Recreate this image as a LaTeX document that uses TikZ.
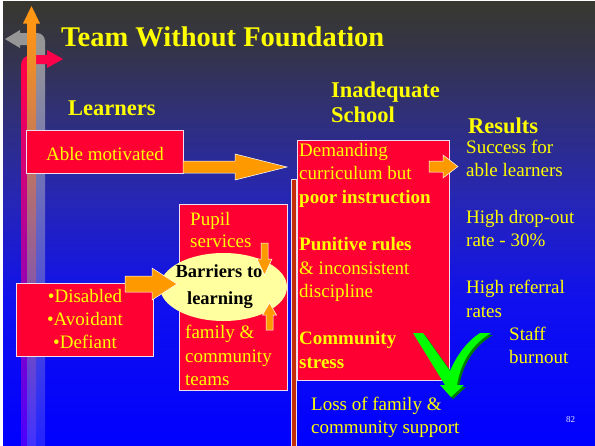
\documentclass[tikz,border=0pt]{standalone}
\usepackage{fontspec}
\setmainfont{Liberation Serif}
\usetikzlibrary{shapes.geometric}

% palette
\definecolor{boxred}{RGB}{255,0,51}
\definecolor{boxedge}{RGB}{236,222,236}
\definecolor{arroworange}{RGB}{255,153,0}
\definecolor{barfill}{RGB}{195,45,10}
\definecolor{bubble}{RGB}{255,255,160}
\definecolor{txtyellow}{RGB}{255,255,0}
\definecolor{chkgreen}{RGB}{0,255,0}
\definecolor{chkshadow}{RGB}{0,125,0}
\definecolor{pagenum}{RGB}{225,225,255}
% background stops
\definecolor{bgTop}{RGB}{56,56,46}
\definecolor{bgA}{RGB}{52,52,74}
\definecolor{bgB}{RGB}{48,48,118}
\definecolor{bgC}{RGB}{38,38,182}
\definecolor{bgD}{RGB}{16,16,238}
\definecolor{bgE}{RGB}{0,0,255}
% rising arrows on the left
\definecolor{grayTop}{RGB}{150,150,150}
\definecolor{grayMid}{RGB}{105,105,205}
\definecolor{grayBot}{RGB}{35,35,255}
\definecolor{redTop}{RGB}{255,0,75}
\definecolor{redMid}{RGB}{175,0,185}
\definecolor{redBot}{RGB}{75,0,255}
\definecolor{orTop}{RGB}{255,150,20}
\definecolor{orMid}{RGB}{205,118,170}
\definecolor{orBot}{RGB}{65,50,255}

\pgfdeclareverticalshading{slidebg}{100bp}{%
  color(0bp)=(bgE); color(25bp)=(bgE); color(41.3bp)=(bgD);
  color(52.5bp)=(bgC); color(62.6bp)=(bgB); color(69.4bp)=(bgA);
  color(75bp)=(bgTop); color(100bp)=(bgTop)}

\begin{document}
\begin{tikzpicture}[x=1pt,y=-1pt,
  redbox/.style={draw=boxedge, fill=boxred, line width=0.7pt, inner sep=0pt, anchor=north west},
  blockarrow/.style={fill=arroworange, draw=white, line width=0.5pt},
  body/.style={text=txtyellow, font=\fontsize{19}{23.5}\selectfont, inner sep=0pt, anchor=base west},
  bodyb/.style={body, font=\fontsize{19}{23.5}\selectfont\bfseries},
  heading/.style={text=txtyellow, font=\fontsize{22.5}{27}\selectfont\bfseries, inner sep=0pt, anchor=base west},
  bubbletxt/.style={anchor=base, inner sep=0pt, font=\fontsize{18.5}{23}\selectfont\bfseries}]
\useasboundingbox (0,0) rectangle (595,445);
\fill[white] (0,0) rectangle (595,445);
\shade[shading=slidebg] (3,1) rectangle (595,445);

% gray arrow turning left
\shade[top color=grayTop, middle color=grayMid, bottom color=grayBot] (36,50) rectangle (45,445);
\fill[grayTop] (45,51) -- (45,41) .. controls (45,36.6) and (41.4,33) .. (37,33)
  -- (20,33) -- (20,30) -- (5,39) -- (20,48) -- (20,45) -- (36,45) -- (36,51) -- cycle;
% red arrow turning right
\shade[top color=redTop, middle color=redMid, bottom color=redBot] (21,74) rectangle (27.5,445);
\fill[redTop] (21,75) -- (21,65) .. controls (21,59.5) and (25.5,55) .. (31,55)
  -- (47,55) -- (47,50) -- (63,59) -- (47,68) -- (47,64) -- (27.5,64) -- (27.5,75) -- cycle;
% orange arrow straight up
\shade[top color=orTop, middle color=orMid, bottom color=orBot] (27,23) rectangle (36,445);
\fill[orTop] (23,23.5) -- (31.5,6) -- (40,23.5) -- cycle;

% title and headings
\node[anchor=base west, text=txtyellow, inner sep=0pt,
      font=\fontsize{28.5}{34}\selectfont\bfseries] (title) at (61,46) {Team Without Foundation};
\node[heading] (learners) at (68,115) {Learners};
\node[heading] (inad) at (331,97) {Inadequate};
\node[heading] (schoolhd) at (331,122) {School};
\node[heading] (results) at (468,133) {Results};

% learner boxes
\node[redbox, minimum width=157pt, minimum height=43pt] (able) at (26,130) {};
\node[body, anchor=base] (abletxt) at (105,160) {Able motivated};
\node[redbox, minimum width=137pt, minimum height=73pt] (dis) at (16,283) {};
\node[body, anchor=base] (dis1) at (85,302) {\textbullet Disabled};
\node[body, anchor=base] (dis2) at (85,325) {\textbullet Avoidant};
\node[body, anchor=base] (dis3) at (85,348) {\textbullet Defiant};

% pupil services column
\node[redbox, minimum width=108pt, minimum height=186pt] (pupil) at (179,204) {};
\node[body] (pup1) at (190,225) {Pupil};
\node[body] (pup2) at (190,247) {services};
\node[body] (fam1) at (185,338) {family \&};
\node[body] (fam2) at (185,362) {community};
\node[body] (fam3) at (185,385) {teams};

% thin bar and school box
\fill[barfill, draw=boxedge, line width=0.5pt] (291.5,179) rectangle (296.5,447);
\node[redbox, minimum width=152pt, minimum height=240pt] (school) at (297,140) {};
\node[body] (s1) at (299,156) {Demanding};
\node[body] (s2) at (299,179) {curriculum but};
\node[bodyb] (s3) at (299,203) {poor instruction};
\node[bodyb] (s4) at (299,250) {Punitive rules};
\node[body] (s5) at (299,274) {\& inconsistent};
\node[body] (s6) at (299,297) {discipline};
\node[bodyb] (s7) at (299,344) {Community};
\node[bodyb] (s8) at (299,368) {stress};
\node[body] (loss1) at (311,410) {Loss of family \&};
\node[body] (loss2) at (311,433) {community support};

% results column
\node[body] (r1) at (466,153) {Success for};
\node[body] (r2) at (466,176) {able learners};
\node[body] (r3) at (466,223) {High drop-out};
\node[body] (r4) at (466,246) {rate - 30\%};
\node[body] (r5) at (466,293) {High referral};
\node[body] (r6) at (466,317) {rates};
\node[body] (r7) at (509,340) {Staff};
\node[body] (r8) at (509,363) {burnout};
\node[anchor=base west, inner sep=0pt, text=pagenum, font=\fontsize{9}{10}\selectfont] (pg) at (566,422) {82};

% barriers bubble
\node[ellipse, fill=bubble, minimum width=127pt, minimum height=68pt, inner sep=0pt] (barr) at (223.5,287) {};
\node[bubbletxt] (b1) at (219,277) {Barriers to};
\node[bubbletxt] (b2) at (220,304) {learning};

% block arrows
\draw[blockarrow] (183,161) -- (235,161) -- (235,154) -- (287,167) -- (235,180) -- (235,173) -- (183,173) -- cycle;
\draw[blockarrow] (125,276) -- (152,276) -- (152,268) -- (177,284) -- (152,300) -- (152,292) -- (125,292) -- cycle;
\draw[blockarrow] (261,243) -- (268,243) -- (268,259) -- (272,259) -- (264.5,275) -- (257,259) -- (261,259) -- cycle;
\draw[blockarrow] (266,330) -- (273,330) -- (273,315) -- (276.5,315) -- (269.5,303) -- (262.5,315) -- (266,315) -- cycle;
\draw[blockarrow] (429,161) -- (443,161) -- (443,155) -- (458,166.5) -- (443,178) -- (443,172) -- (429,172) -- cycle;

% check mark with its shadow
\foreach \dx/\col in {2/chkshadow, 0/chkgreen}{
  \fill[\col, shift={(\dx,\dx)}] (413,333) -- (423,333) -- (450,371)
    .. controls (456,357) and (466,342) .. (480,333) -- (491,333)
    .. controls (474,343) and (461,360) .. (457,385) -- (464,385) -- (451,397)
    -- (440,385) -- (445,385) -- cycle;
}
\end{tikzpicture}
\end{document}
